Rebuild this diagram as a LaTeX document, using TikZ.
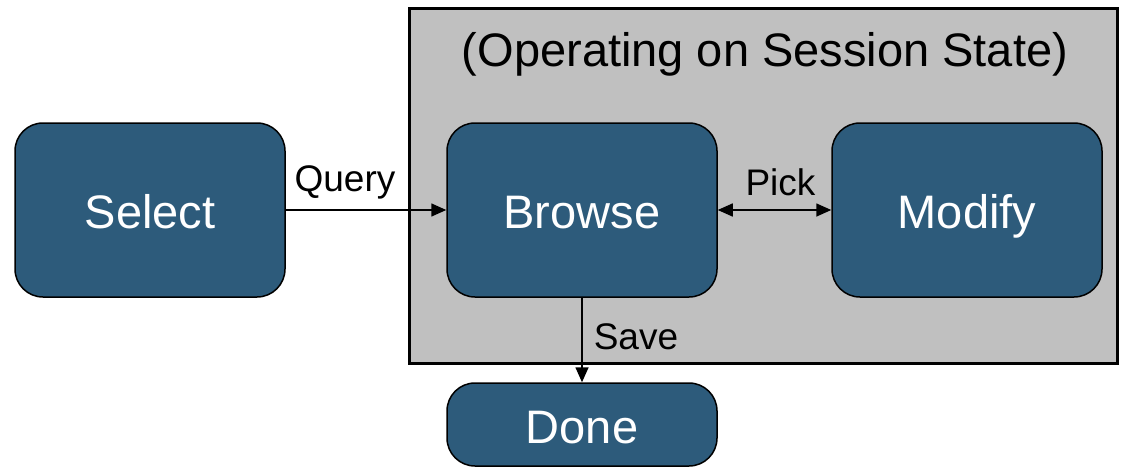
\documentclass[tikz,border=0pt]{standalone}
\usepackage{fontspec}
\setmainfont{Liberation Sans}
\usetikzlibrary{arrows.meta}
\definecolor{stepblue}{HTML}{2D5B7B}
\definecolor{panelgray}{HTML}{C0C0C0}
\tikzset{
  stepbox/.style={draw=black, line width=1.5pt, fill=stepblue, rounded corners=28pt,
    minimum width=270pt, minimum height=174pt, inner sep=0pt, text=white,
    font=\fontsize{47pt}{50pt}\selectfont, text height=36pt, text depth=0pt},
  flow/.style={line width=1.6pt, -{Triangle[length=15pt,width=13pt]}},
  lbl/.style={font=\fontsize{37pt}{40pt}\selectfont, inner sep=0pt}
}
\begin{document}
\begin{tikzpicture}[x=1pt,y=-1pt]
\useasboundingbox (0,0) rectangle (1123,468);
% session-state panel
\node[draw=black, line width=3pt, fill=panelgray, minimum width=708pt, minimum height=354pt,
  inner sep=0pt] (panel) at (763,186) {};
\node[lbl, font=\fontsize{47pt}{50pt}\selectfont] (title) at (765,54) {(Operating on Session State)};
% steps
\node[stepbox] (select) at (150,210) {Select};
\node[stepbox] (browse) at (582,210) {Browse};
\node[stepbox] (modify) at (967,210) {Modify};
\node[stepbox, minimum height=83pt, text height=38pt] (done) at (582,424.5) {Done};
% connectors
\draw[flow] (select.east) -- (browse.west) node[lbl, midway, above=10pt, xshift=-21pt] {Query};
\draw[flow, {Triangle[length=15pt,width=13pt]}-{Triangle[length=15pt,width=13pt]}] (browse.east) -- (modify.west)
  node[lbl, midway, above=13pt, xshift=6pt] {Pick};
\draw[flow] (browse.south) -- (done.north) node[lbl, midway, right=11pt, yshift=3pt] {Save};
\end{tikzpicture}
\end{document}
